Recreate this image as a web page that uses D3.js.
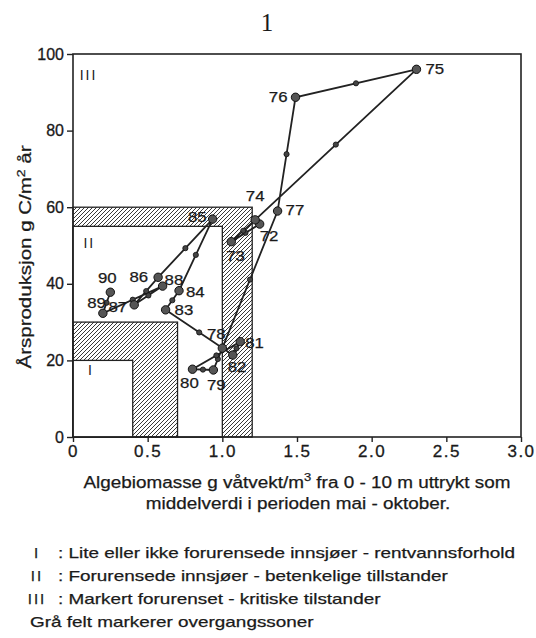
<!DOCTYPE html>
<html>
<head>
<meta charset="utf-8">
<script src="https://cdn.jsdelivr.net/npm/d3@7"></script>
<style>
  html, body { margin: 0; padding: 0; background: #fff; }
  svg { display: block; }
  text { font-family: "Liberation Sans", Arial, sans-serif; fill: #1a1a1a; }
</style>
</head>
<body>
<svg id="chart" width="536" height="638"></svg>
<script>
// yearly values (x: algal biomass, y: annual production)
const years = ['72', '73', '74', '75', '76', '77', '78', '79', '80', '81', '82', '83', '84', '85', '86', '87', '88', '89', '90'];
const biomass = [1.25, 1.06, 1.22, 2.3, 1.49, 1.37, 1.0, 0.94, 0.8, 1.12, 1.07, 0.62, 0.71, 0.935, 0.57, 0.41, 0.6, 0.2, 0.25];
const production = [55.6, 51, 56.7, 96, 88.7, 59, 23.2, 17.5, 17.7, 24.9, 21.4, 33.2, 38.2, 56.9, 41.7, 34.5, 39.4, 32.3, 37.8];

// zone limits (outer corner of each box), drawn from the largest to the smallest
const zoneX = [1.2, 1.0, 0.7, 0.4];
const zoneY = [60, 55, 30, 20];
const zoneFill = ['hatch', 'white', 'hatch', 'white'];

const xTicks = [0, 0.5, 1.0, 1.5, 2.0, 2.5, 3.0];
const yTicks = [0, 20, 40, 60, 80, 100];

const legendKeys = ['I', 'II', 'III'];
const legendTexts = [
  ': Lite eller ikke forurensede innsjøer - rentvannsforhold',
  ': Forurensede innsjøer - betenkelige tillstander',
  ': Markert forurenset - kritiske tilstander'
];

// label placement next to each year point
const labelPos = {
  '72': ['start', 0, 17], '73': ['start', -5, 19], '74': ['middle', 0, -19],
  '75': ['start', 9, 5], '76': ['end', -8, 5], '77': ['start', 8, 4],
  '78': ['middle', -6, -9], '79': ['middle', 3, 20], '80': ['middle', -3, 19],
  '81': ['start', 5, 6], '82': ['start', -5, 17], '83': ['start', 9, 5],
  '84': ['start', 7, 6], '85': ['end', -6, 3], '86': ['end', -10, 5],
  '87': ['end', -7, 7], '88': ['start', 2, -1], '89': ['end', 3, -5],
  '90': ['middle', -3, -9]
};

const svg = d3.select('#chart');
const x = d3.scaleLinear().domain([0, 3]).range([73, 521]);
const y = d3.scaleLinear().domain([0, 100]).range([437, 54]);

// the printed face is wider than Liberation Sans, so stretch text sideways
function stretch(sel, factor) {
  sel.each(function () {
    const w = this.getComputedTextLength();
    d3.select(this).attr('textLength', w * factor).attr('lengthAdjust', 'spacingAndGlyphs');
  });
}

const defs = svg.append('defs');
defs.append('pattern')
  .attr('id', 'hatch')
  .attr('patternUnits', 'userSpaceOnUse')
  .attr('width', 4)
  .attr('height', 4)
  .append('path')
  .attr('d', 'M-1,1 l2,-2 M0,4 l4,-4 M3,5 l2,-2')
  .attr('stroke', '#222')
  .attr('stroke-width', 0.9);

// page number
svg.append('text')
  .attr('x', 267).attr('y', 31)
  .attr('text-anchor', 'middle')
  .style('font-family', '"Liberation Serif", serif')
  .style('font-size', '25px')
  .text('1');

// zones
svg.append('g')
  .selectAll('rect')
  .data(zoneX)
  .join('rect')
  .attr('x', x(0))
  .attr('y', (d, i) => y(zoneY[i]))
  .attr('width', (d) => x(d) - x(0))
  .attr('height', (d, i) => y(0) - y(zoneY[i]))
  .attr('fill', (d, i) => (zoneFill[i] === 'hatch' ? 'url(#hatch)' : '#fff'))
  .attr('stroke', '#222')
  .attr('stroke-width', 1.3);

// frame
svg.append('rect')
  .attr('x', x(0)).attr('y', y(100))
  .attr('width', x(3) - x(0)).attr('height', y(0) - y(100))
  .attr('fill', 'none')
  .attr('stroke', '#222')
  .attr('stroke-width', 1.6);

const xAxis = svg.append('g')
  .attr('transform', `translate(0,${y(0)})`)
  .call(d3.axisBottom(x).tickValues(xTicks).tickFormat((d) => (d === 0 ? '0' : d3.format('.1f')(d))).tickSize(5).tickPadding(3));
xAxis.select('.domain').remove();
xAxis.selectAll('line').attr('stroke', '#222').attr('stroke-width', 1.4);
xAxis.selectAll('text')
  .style('font-size', '17px')
  .style('letter-spacing', '1.5px')
  .attr('fill', '#1a1a1a')
  .attr('stroke', '#1a1a1a')
  .attr('stroke-width', 0.3);

const yAxis = svg.append('g')
  .attr('transform', `translate(${x(0)},0)`)
  .call(d3.axisLeft(y).tickValues(yTicks).tickSize(6).tickPadding(3));
yAxis.select('.domain').remove();
yAxis.selectAll('line').attr('stroke', '#222').attr('stroke-width', 1.4);
yAxis.selectAll('text')
  .style('font-size', '16px')
  .attr('fill', '#1a1a1a')
  .attr('stroke', '#1a1a1a')
  .attr('stroke-width', 0.3);

// zone numerals
const numerals = [['III', 0.045, 93.2], ['II', 0.07, 49.3], ['I', 0.1, 16.2]];
svg.append('g')
  .selectAll('text')
  .data(numerals)
  .join('text')
  .attr('x', (d) => x(d[1]))
  .attr('y', (d) => y(d[2]))
  .style('font-size', '14px')
  .style('letter-spacing', '2px')
  .text((d) => d[0]);

// trajectory
const pts = years.map((yr, i) => ({ year: yr, bx: biomass[i], pr: production[i] }));
const line = d3.line().x((d) => x(d.bx)).y((d) => y(d.pr));
svg.append('path')
  .datum(pts)
  .attr('d', line)
  .attr('fill', 'none')
  .attr('stroke', '#222')
  .attr('stroke-width', 1.8);

const mids = d3.pairs(pts).map(([a, b]) => ({ bx: (a.bx + b.bx) / 2, pr: (a.pr + b.pr) / 2 }));
svg.append('g')
  .selectAll('circle')
  .data(mids)
  .join('circle')
  .attr('cx', (d) => x(d.bx))
  .attr('cy', (d) => y(d.pr))
  .attr('r', 2.6)
  .attr('fill', '#444')
  .attr('stroke', '#111')
  .attr('stroke-width', 0.8);

svg.append('g')
  .selectAll('circle')
  .data(pts)
  .join('circle')
  .attr('cx', (d) => x(d.bx))
  .attr('cy', (d) => y(d.pr))
  .attr('r', 4.2)
  .attr('fill', '#555')
  .attr('stroke', '#111')
  .attr('stroke-width', 1);

const yearLabels = svg.append('g')
  .selectAll('text')
  .data(pts)
  .join('text')
  .attr('x', (d) => x(d.bx) + labelPos[d.year][1])
  .attr('y', (d) => y(d.pr) + labelPos[d.year][2])
  .attr('text-anchor', (d) => labelPos[d.year][0])
  .style('font-size', '15px')
  .attr('stroke', '#1a1a1a')
  .attr('stroke-width', 0.25)
  .text((d) => d.year);
stretch(yearLabels, 1.12);

// axis titles
const yTitle = svg.append('text')
  .attr('transform', 'translate(31,257) rotate(-90)')
  .attr('text-anchor', 'middle')
  .style('font-size', '16px')
  .attr('stroke', '#1a1a1a')
  .attr('stroke-width', 0.25);
yTitle.append('tspan').text('Årsproduksjon g C/m');
yTitle.append('tspan').attr('dy', -6).style('font-size', '11px').text('2');
yTitle.append('tspan').attr('dy', 6).text(' år');
stretch(yTitle, 1.28);

const xTitle = svg.append('text')
  .attr('x', 297).attr('y', 488)
  .attr('text-anchor', 'middle')
  .style('font-size', '16px')
  .attr('stroke', '#1a1a1a')
  .attr('stroke-width', 0.25);
xTitle.append('tspan').text('Algebiomasse g våtvekt/m');
xTitle.append('tspan').attr('dy', -7).style('font-size', '11px').text('3');
xTitle.append('tspan').attr('dy', 7).text('  fra 0 - 10 m uttrykt som');
stretch(xTitle, 1.18);

const xTitle2 = svg.append('text')
  .attr('x', 298).attr('y', 509)
  .attr('text-anchor', 'middle')
  .style('font-size', '16px')
  .attr('stroke', '#1a1a1a')
  .attr('stroke-width', 0.25)
  .text('middelverdi i perioden mai - oktober.');
stretch(xTitle2, 1.18);

// legend
const legend = svg.append('g')
  .style('font-size', '15px')
  .attr('stroke', '#1a1a1a')
  .attr('stroke-width', 0.25);
legendKeys.forEach((k, i) => {
  legend.append('text').attr('x', 37).attr('y', 558 + i * 23).attr('text-anchor', 'middle').style('letter-spacing', '2px').text(k);
  legend.append('text').attr('class', 'ltxt').attr('x', 58).attr('y', 558 + i * 23).text(legendTexts[i]);
});
legend.append('text').attr('class', 'ltxt').attr('x', 30).attr('y', 627).text('Grå felt markerer overgangssoner');
stretch(legend.selectAll('text.ltxt'), 1.26);
</script>
</body>
</html>
